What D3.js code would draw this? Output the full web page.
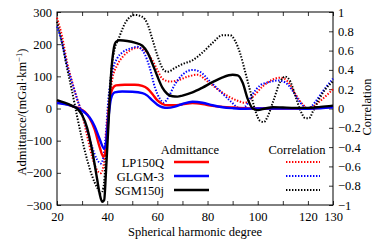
<!DOCTYPE html>
<html>
<head>
<meta charset="utf-8">
<script src="https://cdn.jsdelivr.net/npm/d3@7"></script>
<style>
  body { margin: 0; background: #fff; }
  text { font-family: "Liberation Serif", "DejaVu Serif", serif; fill: #000; }
</style>
</head>
<body>
<div id="graphicContainer"></div>
<script>
// admittance (mGal/km), [degree, value]
var lp150qAdm = [[20,20],[24,13],[27,5],[29,0],[31,-10],[33,-30],[35,-65],[37,-120],[38.5,-150],[39.2,-140],[40,-60],[41,20],[42,60],[43.5,72],[47,74],[51,74],[54,70],[56,62],[58,45],[60,25],[62,14],[64,10],[67,10],[70,13],[74,17],[78,14],[82,8],[86,5],[90,3],[95,1],[100,0],[110,0],[120,0],[125,2],[130,5]];
var glgm3Adm = [[20,17],[24,12],[27,5],[29,-2],[31,-12],[33,-28],[35,-55],[37,-95],[38.8,-125],[39.5,-110],[40.5,-30],[41.5,30],[43,50],[46,53],[50,52],[54,48],[56,40],[58,25],[60,12],[62,4],[64,2],[67,6],[70,14],[74,21],[78,18],[82,10],[86,4],[90,1],[95,-1],[100,0],[110,0],[120,-1],[125,1],[130,4]];
var sgm150jAdm = [[20,26],[23,18],[26,8],[28,0],[30,-20],[32,-60],[34,-130],[36,-220],[37,-265],[38,-290],[38.8,-285],[39.5,-200],[40.5,-50],[41.5,100],[42.5,180],[43.5,207],[45,212],[48,210],[51,205],[54,195],[56,175],[58,140],[60,100],[62,65],[64,45],[66,38],[68,37],[70,40],[74,50],[78,65],[82,82],[86,97],[90,105],[92,103],[94,80],[96,30],[98,0],[100,-5],[103,0],[106,4],[110,3],[115,2],[120,2],[125,5],[130,9]];

// correlation, [degree, value]
var lp150qCor = [[20,0.94],[22,0.75],[24,0.48],[26,0.28],[28,0.1],[30,-0.06],[32,-0.28],[34,-0.5],[36,-0.64],[37.5,-0.67],[38.5,-0.6],[39.5,-0.35],[40.5,0],[42,0.3],[44,0.45],[46,0.53],[49,0.6],[52,0.63],[55,0.6],[58,0.5],[60,0.4],[62,0.31],[65,0.28],[68,0.29],[72,0.33],[76,0.35],[80,0.28],[84,0.2],[88,0.13],[92,0.08],[95,0.06],[98,0.12],[102,0.23],[106,0.3],[109,0.32],[112,0.28],[115,0.15],[118,0.04],[120,0],[122,0.02],[125,0.08],[128,0.15],[130,0.2]];
var glgm3Cor = [[20,0.85],[22,0.68],[24,0.45],[26,0.27],[28,0.1],[30,-0.05],[32,-0.22],[34,-0.4],[36,-0.53],[37.5,-0.57],[38.5,-0.5],[39.5,-0.25],[40.5,0.1],[42,0.38],[44,0.52],[46,0.58],[49,0.62],[52,0.64],[55,0.56],[57,0.42],[59,0.22],[61,0.1],[62.5,0.06],[64,0.1],[67,0.25],[70,0.35],[74,0.4],[77,0.38],[81,0.28],[85,0.18],[89,0.08],[93,0],[95,0.02],[98,0.15],[101,0.24],[104,0.27],[108,0.29],[111,0.27],[114,0.18],[117,0.06],[120,0],[123,0.07],[126,0.18],[130,0.31]];
var sgm150jCor = [[20,0.9],[22,0.68],[24,0.42],[26,0.18],[28,-0.08],[30,-0.32],[32,-0.53],[34,-0.7],[36,-0.82],[37.5,-0.88],[38.5,-0.82],[39.5,-0.5],[40.5,-0.02],[41.8,0.43],[43,0.62],[44.5,0.72],[47.5,0.9],[51,0.97],[54,0.95],[56,0.88],[58,0.72],[60,0.55],[62.5,0.4],[64,0.38],[67,0.42],[70,0.46],[74,0.5],[78,0.58],[82,0.68],[86,0.76],[89,0.76],[91,0.7],[93,0.57],[95,0.38],[97,0.18],[99,-0.02],[101,-0.13],[102.5,-0.14],[104,-0.08],[106.5,0.1],[109,0.28],[111,0.33],[113,0.28],[115,0.13],[117,-0.02],[119,-0.1],[120.5,-0.1],[122,-0.03],[124.5,0.1],[127,0.2],[130,0.28]];

var modelNames = ["LP150Q", "GLGM-3", "SGM150j"];
var modelColors = ["#ff0000", "#0000ff", "#000000"];
var xTickLabels = [20, 40, 60, 80, 100, 120, 130];
var xTicks = [20, 30, 40, 50, 60, 70, 80, 90, 100, 110, 120, 130];
var yLeftTicks = [-300, -200, -100, 0, 100, 200, 300];
var yRightTicks = [-1, -0.8, -0.6, -0.4, -0.2, 0, 0.2, 0.4, 0.6, 0.8, 1];

var W = 382, H = 248;
var margin = { top: 12, right: 49, bottom: 43, left: 57 };
var width = W - margin.left - margin.right,
  height = H - margin.top - margin.bottom;

var svg = d3.select("#graphicContainer").append("svg")
  .attr("width", W).attr("height", H);
var features = svg.append("g")
  .attr("transform", "translate(" + margin.left + "," + margin.top + ")");

var x = d3.scaleLinear().domain([20, 130]).range([0, width]);
var yA = d3.scaleLinear().domain([-300, 300]).range([height, 0]);
var yC = d3.scaleLinear().domain([-1, 1]).range([height, 0]);

var fmt = function (d) { return xTickLabels.indexOf(d) >= 0 ? d : ""; };

// axes, ticks inward
var xAxis = d3.axisBottom(x).tickValues(xTicks).tickFormat(fmt).tickSizeInner(-4).tickSizeOuter(0).tickPadding(7);
var xTop = d3.axisTop(x).tickValues(xTicks).tickFormat("").tickSizeInner(-4).tickSizeOuter(0);
var yAxis = d3.axisLeft(yA).tickValues(yLeftTicks).tickSizeInner(-4).tickSizeOuter(0).tickPadding(5);
var yAxisR = d3.axisRight(yC).tickValues(yRightTicks).tickFormat(function (d) { return d3.format("")(+d.toFixed(1)); }).tickSizeInner(-4).tickSizeOuter(0).tickPadding(5);

features.append("g").attr("class", "x").attr("transform", "translate(0," + height + ")").call(xAxis);
features.append("g").attr("class", "xt").call(xTop);
features.append("g").attr("class", "y").call(yAxis);
features.append("g").attr("class", "yr").attr("transform", "translate(" + width + ",0)").call(yAxisR);

features.selectAll(".domain").remove();
features.selectAll(".tick line").attr("stroke", "#000").attr("stroke-width", 0.8);
features.selectAll(".tick text").style("font-size", "12.5px");

features.append("rect")
  .attr("width", width).attr("height", height)
  .attr("fill", "none").attr("stroke", "#000").attr("stroke-width", 1);

var lineA = d3.line().x(function (d) { return x(d[0]); }).y(function (d) { return yA(d[1]); }).curve(d3.curveMonotoneX);
var lineC = d3.line().x(function (d) { return x(d[0]); }).y(function (d) { return yC(d[1]); }).curve(d3.curveMonotoneX);

var corSeries = [lp150qCor, glgm3Cor, sgm150jCor];
var admSeries = [lp150qAdm, glgm3Adm, sgm150jAdm];

var plot = features.append("g");
corSeries.forEach(function (s, i) {
  plot.append("path").datum(s).attr("d", lineC)
    .attr("fill", "none").attr("stroke", modelColors[i])
    .attr("stroke-width", 2).attr("stroke-dasharray", "1.4,1.6");
});
admSeries.forEach(function (s, i) {
  plot.append("path").datum(s).attr("d", lineA)
    .attr("fill", "none").attr("stroke", modelColors[i])
    .attr("stroke-width", 2.4);
});

// legends
var leg = svg.append("g");
leg.append("text").attr("x", 190).attr("y", 154).attr("text-anchor", "middle").style("font-size", "12.5px").text("Admittance");
leg.append("text").attr("x", 297).attr("y", 154).attr("text-anchor", "middle").style("font-size", "12.5px").text("Correlation");
modelNames.forEach(function (name, i) {
  var yy = 162 + i * 14;
  leg.append("text").attr("x", 164).attr("y", yy + 4.5).attr("text-anchor", "end").style("font-size", "12.5px").text(name);
  leg.append("line").attr("x1", 174).attr("x2", 209).attr("y1", yy).attr("y2", yy)
    .attr("stroke", modelColors[i]).attr("stroke-width", 2.4);
  leg.append("line").attr("x1", 286).attr("x2", 320).attr("y1", yy).attr("y2", yy)
    .attr("stroke", modelColors[i]).attr("stroke-width", 2).attr("stroke-dasharray", "1.4,1.6");
});

// axis titles
svg.append("text").attr("x", 195).attr("y", 236).attr("text-anchor", "middle").style("font-size", "12.5px").text("Spherical harmonic degree");
var yl = svg.append("text").attr("transform", "translate(26,112) rotate(-90)").attr("text-anchor", "middle").style("font-size", "12.5px");
yl.append("tspan").text("Admittance/(mGal\u00b7km");
yl.append("tspan").attr("dy", -4).style("font-size", "8.5px").text("\u22121");
yl.append("tspan").attr("dy", 4).text(")");
svg.append("text").attr("transform", "translate(371,107) rotate(-90)").attr("text-anchor", "middle").style("font-size", "12.5px").text("Correlation");
</script>
</body>
</html>
